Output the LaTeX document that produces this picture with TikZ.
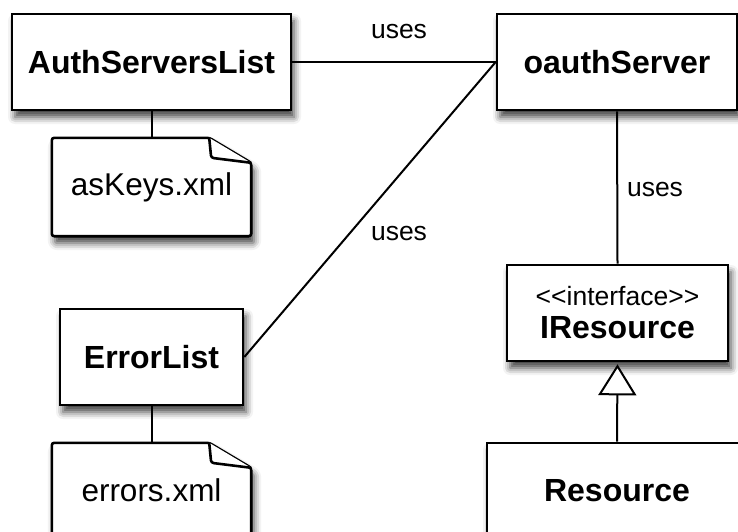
\documentclass[tikz,border=0pt]{standalone}
\usepackage{fontspec}
\setmainfont{Liberation Sans}
\usetikzlibrary{shadows.blur,arrows.meta}
\begin{document}
\begin{tikzpicture}[x=1pt,y=-1pt,
  shad/.style={blur shadow={shadow xshift=3pt, shadow yshift=-7pt, shadow blur radius=7pt, shadow opacity=75}},
  box/.style={draw, fill=white, line width=2.6pt, inner sep=0pt, shad},
  notebox/.style={inner sep=0pt, minimum width=199pt, minimum height=98pt, font=\fontsize{31.5}{36}\selectfont},
  notepath/.style={draw, fill=white, line width=2.6pt, rounded corners=2.5pt},
  lbl/.style={font=\bfseries\fontsize{32}{38}\selectfont},
  conn/.style={line width=2pt},
  uses/.style={font=\fontsize{26.5}{30}\selectfont, inner sep=0pt}]
\useasboundingbox (0,0) rectangle (738,532);
\clip (0,0) rectangle (738,532);

% class boxes
\node[box, lbl, minimum width=279pt, minimum height=96pt] (asl) at (151.5,62) {AuthServersList};
\node[box, lbl, minimum width=240pt, minimum height=96pt] (oauth) at (617,62) {oauthServer};
\node[box, lbl, minimum width=183pt, minimum height=96pt] (err) at (151.5,357) {ErrorList};
\node[box, minimum width=221pt, minimum height=96pt, align=center, font=\fontsize{26.5}{33}\selectfont] (iface) at (617.5,313)
  {<{}<interface>{}>\\\bfseries\fontsize{32}{33}\selectfont IResource};
\node[box, lbl, minimum width=260pt, minimum height=96pt] (res) at (617,491) {Resource};

% notes
\node[notebox] (keys) at (151.5,187) {};
\node[notebox] (errs) at (151.5,492) {};
\foreach \n in {keys,errs}{
  \path[notepath, shad] (\n.south west) -- (\n.north west) -- ([xshift=-42pt]\n.north east)
     -- ([yshift=-25pt]\n.north east) -- (\n.south east) -- cycle;
  \path[notepath] ([xshift=-42pt]\n.north east) -- ([xshift=-40pt,yshift=-20pt]\n.north east)
     -- ([yshift=-25pt]\n.north east);
}
\node[notebox] (keystext) at (keys.center) {asKeys.xml};
\node[notebox] (errstext) at ([yshift=2pt]errs.center) {errors.xml};

% connectors
\draw[conn] (asl.east) -- (oauth.west);
\draw[conn] (err.east) -- (oauth.west);
\draw[conn] (oauth.south) -- (iface.north);
\draw[conn] (asl.south) -- (keys.north);
\draw[conn] (err.south) -- (errs.north);
\draw[conn, -{Triangle[open, fill=white, length=31pt 0, width=38pt 0]}, shorten >=2pt] (res.north) -- (iface.south);

% labels
\node[uses] (u1) at (399,32) {uses};
\node[uses] (u2) at (399,233) {uses};
\node[uses] (u3) at (655,189) {uses};
\end{tikzpicture}
\end{document}
